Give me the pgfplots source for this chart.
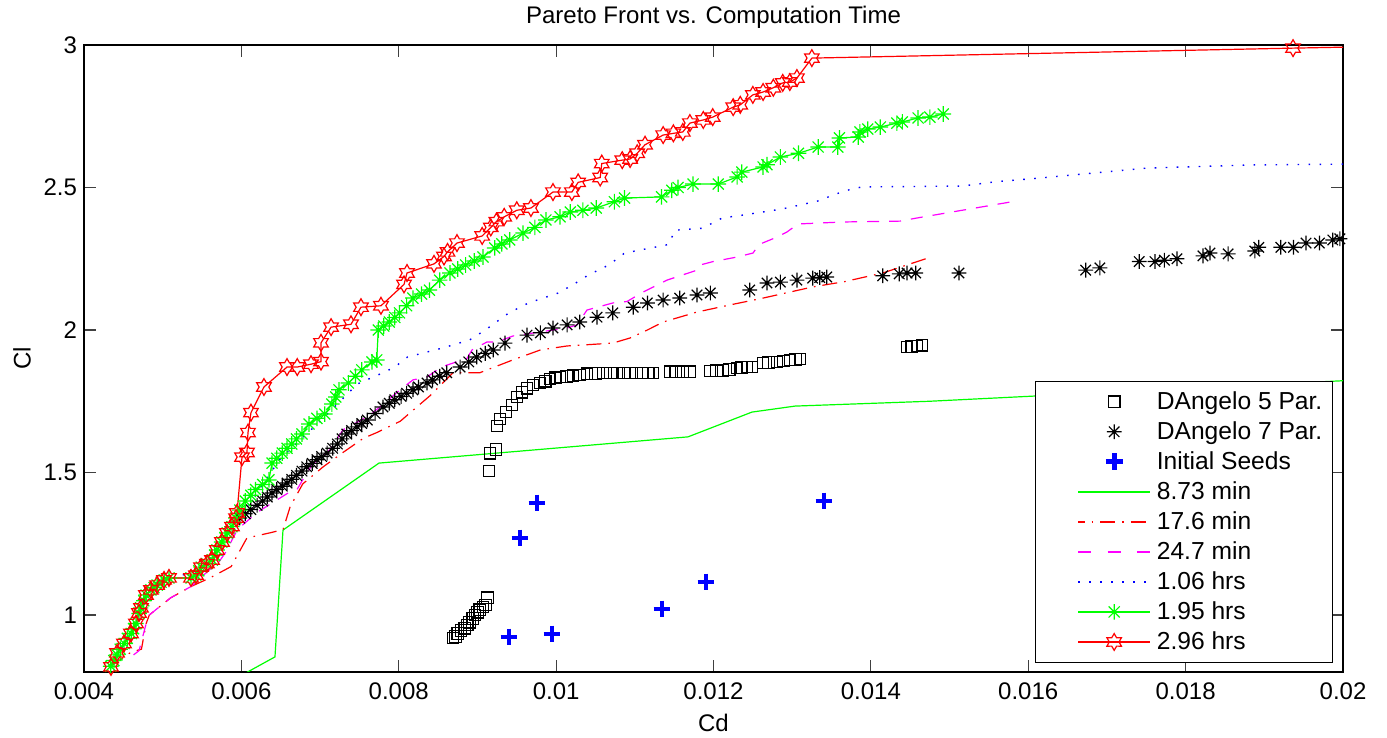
\documentclass[border=0pt]{standalone}
\usepackage{pgfplots}
\pgfplotsset{compat=1.18}
\usepackage{fontspec}
\setmainfont{Liberation Sans}
\definecolor{mgreen}{rgb}{0,1,0}
\definecolor{mred}{rgb}{1,0,0}
\definecolor{mmag}{rgb}{1,0,1}
\definecolor{mblue}{rgb}{0,0,1}
\pgfdeclareplotmark{hexagram}{%
 \pgfpathmoveto{\pgfqpointpolar{90}{\pgfplotmarksize}}%
 \pgfpathlineto{\pgfqpointpolar{120}{0.577\pgfplotmarksize}}%
 \pgfpathlineto{\pgfqpointpolar{150}{\pgfplotmarksize}}%
 \pgfpathlineto{\pgfqpointpolar{180}{0.577\pgfplotmarksize}}%
 \pgfpathlineto{\pgfqpointpolar{210}{\pgfplotmarksize}}%
 \pgfpathlineto{\pgfqpointpolar{240}{0.577\pgfplotmarksize}}%
 \pgfpathlineto{\pgfqpointpolar{270}{\pgfplotmarksize}}%
 \pgfpathlineto{\pgfqpointpolar{300}{0.577\pgfplotmarksize}}%
 \pgfpathlineto{\pgfqpointpolar{330}{\pgfplotmarksize}}%
 \pgfpathlineto{\pgfqpointpolar{0}{0.577\pgfplotmarksize}}%
 \pgfpathlineto{\pgfqpointpolar{30}{\pgfplotmarksize}}%
 \pgfpathlineto{\pgfqpointpolar{60}{0.577\pgfplotmarksize}}%
 \pgfpathclose\pgfusepathqstroke}
\pgfdeclareplotmark{mstar}{%
 \pgfpathmoveto{\pgfqpoint{0pt}{\pgfplotmarksize}}\pgfpathlineto{\pgfqpoint{0pt}{-\pgfplotmarksize}}%
 \pgfpathmoveto{\pgfqpoint{\pgfplotmarksize}{0pt}}\pgfpathlineto{\pgfqpoint{-\pgfplotmarksize}{0pt}}%
 \pgfpathmoveto{\pgfqpoint{0.707\pgfplotmarksize}{0.707\pgfplotmarksize}}\pgfpathlineto{\pgfqpoint{-0.707\pgfplotmarksize}{-0.707\pgfplotmarksize}}%
 \pgfpathmoveto{\pgfqpoint{-0.707\pgfplotmarksize}{0.707\pgfplotmarksize}}\pgfpathlineto{\pgfqpoint{0.707\pgfplotmarksize}{-0.707\pgfplotmarksize}}%
 \pgfusepathqstroke}
\begin{document}
\begin{tikzpicture}
\path[use as bounding box] (0,0) rectangle (693.5pt,369pt);
\begin{axis}[
 at={(42pt,33pt)}, anchor=south west,
 scale only axis, width=629.5pt, height=313.5pt,
 xmin=0.004, xmax=0.02, ymin=0.8, ymax=3,
 font=\fontsize{12}{14}\selectfont,
 xtick={0.004,0.006,0.008,0.01,0.012,0.014,0.016,0.018,0.02},
 xticklabels={0.004,0.006,0.008,0.01,0.012,0.014,0.016,0.018,0.02},
 ytick={1,1.5,2,2.5,3},
 yticklabels={1,1.5,2,2.5,3},
 xticklabel style={yshift=-2pt},
 scaled x ticks=false,
 tick align=inside, major tick length=6pt,
 tick style={line width=0.6pt, black!75},
 axis line style={line width=0.9pt},
 title={Pareto Front vs. Computation Time},
 title style={yshift=-1.5pt},
 xlabel={Cd}, ylabel={Cl},
 xlabel style={yshift=0pt},
 ylabel style={yshift=-0.5pt},
 legend cell align=left,
 legend style={at={(0.992,0.0144)}, anchor=south east, draw=black, line width=0.6pt,
   row sep=0.6pt, inner xsep=3pt, inner ysep=3pt, font=\fontsize{12.3}{14}\selectfont,
   /tikz/every odd column/.append style={column sep=1pt}},
 legend image code/.code={\draw[mark repeat=2,mark phase=2,#1] (0pt,0pt) plot coordinates {(17pt,0pt)(35pt,0pt)(53pt,0pt)};},
]
% DAngelo 5 Par.
\addplot[only marks, mark=square, mark size=2.9pt, color=black, draw=black, line width=0.6pt] coordinates {
(0.00869,0.919)(0.00872,0.925)(0.00875,0.935)(0.00879,0.945)(0.00884,0.954)(0.00887,0.965)(0.0089,0.975)(0.00894,0.988)(0.00897,1.0)(0.009,1.01)(0.00903,1.018)(0.00907,1.028)(0.0091,1.035)(0.00913,1.06)
(0.009147,1.505)(0.00916,1.568)(0.009236,1.58)(0.009249,1.663)(0.009287,1.688)(0.009363,1.712)(0.00944,1.737)(0.009503,1.765)(0.009566,1.782)(0.00963,1.796)(0.009706,1.807)(0.009795,1.814)(0.00986,1.82)(0.009922,1.828)(0.00999,1.832)(0.01005,1.835)(0.01013,1.837)(0.010214,1.839)(0.0103,1.842)(0.010392,1.846)(0.0105,1.848)(0.010596,1.849)(0.01069,1.849)(0.010774,1.849)(0.01086,1.849)(0.010939,1.849)(0.01102,1.849)(0.011104,1.849)(0.01117,1.849)(0.011231,1.849)
(0.011447,1.853)(0.01152,1.853)(0.011612,1.853)(0.011701,1.853)
(0.011956,1.856)(0.01204,1.857)(0.012121,1.858)(0.0122,1.862)(0.012299,1.867)(0.01236,1.868)(0.012426,1.87)(0.01249,1.87)
(0.01263,1.884)(0.0127,1.886)(0.012807,1.888)(0.01289,1.891)(0.012972,1.895)(0.01304,1.897)(0.013099,1.898)
(0.014459,1.94)(0.01452,1.942)(0.014586,1.944)(0.01465,1.947)};
% DAngelo 7 Par.
\addplot[only marks, mark=mstar, mark size=3.7pt, color=black, draw=black, line width=0.6pt] coordinates {
(0.00598,1.34)(0.00605,1.355)(0.00612,1.37)(0.0062,1.385)(0.00627,1.40)(0.00633,1.414)(0.00639,1.428)(0.00645,1.44)(0.00652,1.452)(0.00658,1.463)(0.00664,1.476)(0.0067,1.49)(0.00677,1.505)(0.00683,1.52)(0.0069,1.532)(0.00696,1.545)(0.00702,1.556)(0.00709,1.568)(0.00716,1.585)(0.00722,1.60)(0.00728,1.618)(0.00734,1.635)(0.0074,1.647)(0.00747,1.66)(0.00753,1.672)(0.0076,1.684)(0.0077,1.707)(0.0078,1.73)(0.00788,1.743)(0.00795,1.755)(0.00803,1.767)(0.0081,1.778)(0.00818,1.79)(0.00825,1.80)(0.00836,1.814)(0.00843,1.825)(0.00852,1.838)(0.00861,1.85)(0.00878,1.87)(0.00889,1.888)(0.00899,1.905)(0.0091,1.918)(0.0092,1.93)(0.00935,1.954)(0.00963,1.982)(0.0098,1.99)(0.00996,2.007)(0.01014,2.018)(0.0103,2.028)(0.01052,2.045)(0.01072,2.06)(0.01098,2.08)(0.01116,2.095)(0.01136,2.105)(0.01157,2.112)(0.01179,2.123)(0.01196,2.13)
(0.01246,2.14)(0.01268,2.165)(0.01285,2.168)(0.01306,2.175)(0.01326,2.182)(0.01335,2.184)(0.01344,2.186)
(0.01415,2.19)(0.01436,2.197)(0.01446,2.2)(0.01457,2.2)(0.01512,2.2)
(0.01673,2.21)(0.01691,2.218)(0.01741,2.24)(0.01761,2.24)(0.01773,2.245)(0.01789,2.25)(0.01822,2.26)(0.01831,2.27)(0.01854,2.267)(0.01888,2.277)(0.01893,2.29)(0.01921,2.29)(0.01937,2.29)(0.01953,2.305)(0.0197,2.305)(0.01987,2.316)(0.01996,2.32)};
% Initial Seeds
\addplot[only marks, mark=+, mark size=4.2pt, color=mblue, draw=mblue, line width=2.4pt] coordinates {
(0.009757,1.393)(0.009541,1.27)(0.009401,0.923)(0.009948,0.933)(0.011345,1.021)(0.011905,1.116)(0.013404,1.40)};
% 8.73 min
\addplot[color=mgreen, draw=mgreen, line width=0.6pt, mark=none,
  legend image code/.code={\draw[draw=mgreen, line width=0.7pt] (0pt,0pt) (17pt,0pt) -- (53pt,0pt);}] coordinates {
(0.00594,0.76)(0.006059,0.797)(0.006427,0.853)(0.006529,1.298)(0.007749,1.533)(0.011676,1.625)(0.012489,1.712)(0.013036,1.733)(0.014751,1.75)(0.02,1.822)};
% 17.6 min
\addplot[color=mred, draw=mred, line width=0.6pt, mark=none, dash pattern=on 7.5pt off 3.5pt on 0.8pt off 3.5pt,
  legend image code/.code={\draw[draw=mred, line width=0.7pt, dash pattern=on 7.5pt off 3.5pt on 0.8pt off 3.5pt, dash phase=4.3pt] (0pt,0pt) (17pt,0pt) -- (53pt,0pt);}] coordinates {
(0.00434,0.82)(0.0046,0.87)(0.00473,0.88)(0.00479,0.97)(0.00483,1.0)(0.0051,1.06)(0.00536,1.10)(0.0056,1.13)(0.00587,1.17)(0.00607,1.27)(0.00639,1.29)(0.00653,1.30)(0.00662,1.38)(0.00678,1.46)(0.00704,1.52)(0.00729,1.57)(0.00755,1.62)(0.00772,1.64)(0.00802,1.68)(0.00823,1.73)(0.0084,1.77)(0.00869,1.85)(0.00903,1.85)(0.00945,1.895)(0.0098,1.93)(0.01014,1.944)(0.01072,1.954)(0.01094,1.972)(0.01116,2.0)(0.01136,2.028)(0.01179,2.063)(0.01221,2.088)(0.01263,2.112)(0.01326,2.151)(0.01367,2.17)(0.01415,2.2)(0.01473,2.253)};
% 24.7 min
\addplot[color=mmag, draw=mmag, line width=0.6pt, mark=none, dash pattern=on 6pt off 5pt,
  legend image code/.code={\draw[draw=mmag, line width=0.7pt, dash pattern=on 6.5pt off 8.2pt] (0pt,0pt) (17pt,0pt) -- (53pt,0pt);}] coordinates {
(0.00463,0.86)(0.0047,0.875)(0.00479,0.97)(0.00483,1.0)(0.0051,1.06)(0.00536,1.10)(0.0054,1.11)(0.0056,1.16)(0.0057,1.18)(0.0058,1.22)(0.00595,1.30)(0.0062,1.36)(0.006593,1.428)(0.006707,1.44)(0.006834,1.5)(0.00691,1.53)(0.007126,1.58)(0.007292,1.65)(0.007596,1.695)(0.007762,1.73)(0.008016,1.79)(0.008181,1.825)(0.008359,1.835)(0.008524,1.867)(0.008613,1.877)(0.008867,1.9)(0.008931,1.93)(0.009122,1.958)(0.009249,1.958)(0.009452,1.979)(0.009795,1.993)(0.010138,2.007)(0.010265,2.018)(0.010392,2.07)(0.010723,2.095)(0.010901,2.1)(0.011104,2.133)(0.011409,2.175)(0.01179,2.21)(0.011828,2.228)(0.011994,2.24)(0.012299,2.256)(0.012502,2.27)(0.012578,2.3)(0.012807,2.326)(0.012934,2.344)(0.013074,2.372)(0.013646,2.379)(0.01437,2.382)(0.014586,2.393)(0.015857,2.453)};
% 1.06 hrs
\addplot[color=mblue, draw=mblue, line width=0.7pt, mark=none, dash pattern=on 0.8pt off 4.7pt,
  legend image code/.code={\draw[draw=mblue, line width=0.7pt, dash pattern=on 0.8pt off 4.7pt] (0pt,0pt) (17pt,0pt) -- (53pt,0pt);}] coordinates {
(0.00434,0.82)(0.0047,0.98)(0.005,1.12)(0.0055,1.16)(0.006,1.35)(0.0065,1.55)(0.007,1.68)(0.0074,1.79)(0.00747,1.81)(0.0078,1.85)(0.00795,1.87)(0.00811,1.905)(0.00832,1.92)(0.00856,1.937)(0.0089,1.965)(0.0091,2.0)(0.0094,2.06)(0.00965,2.095)(0.01003,2.13)(0.01025,2.165)(0.01041,2.193)(0.01067,2.228)(0.01087,2.27)(0.01143,2.30)(0.01151,2.35)(0.01186,2.357)(0.01211,2.393)(0.01237,2.403)(0.01288,2.425)(0.01338,2.456)(0.01348,2.47)(0.01363,2.484)(0.01376,2.495)(0.01389,2.502)(0.01516,2.505)(0.01558,2.52)(0.01614,2.533)(0.01684,2.551)(0.0175,2.568)(0.01882,2.579)(0.02,2.582)};
% 1.95 hrs
\addplot[color=mgreen, draw=mgreen, line width=0.6pt, mark=mstar, mark size=3.9pt] coordinates {
(0.00434,0.82)(0.00438,0.84)(0.00442,0.86)(0.00446,0.88)(0.00451,0.90)(0.00455,0.918)(0.0046,0.935)(0.00463,0.952)(0.00466,0.97)(0.0047,1.005)(0.00472,1.025)(0.00476,1.05)(0.00479,1.07)(0.00485,1.088)(0.00489,1.096)(0.00493,1.105)(0.00498,1.115)(0.00502,1.123)(0.00508,1.13)(0.00536,1.13)(0.00542,1.14)(0.00546,1.155)(0.00549,1.168)(0.00556,1.18)(0.00563,1.193)(0.00566,1.21)(0.00569,1.228)(0.00575,1.256)(0.00579,1.272)(0.00582,1.288)(0.00588,1.31)(0.00593,1.34)
(0.00598,1.368)(0.00605,1.40)(0.00612,1.42)(0.00618,1.44)(0.00627,1.458)(0.00635,1.474)(0.00639,1.533)(0.00645,1.55)(0.00652,1.568)(0.00658,1.585)(0.00664,1.60)(0.0067,1.618)(0.00677,1.635)(0.00686,1.67)(0.00696,1.69)(0.00706,1.705)(0.00715,1.74)(0.0072,1.765)(0.00724,1.79)(0.00736,1.814)(0.00745,1.838)(0.00753,1.86)(0.00766,1.888)(0.00772,1.895)(0.00774,2.0)(0.00781,2.014)(0.00788,2.028)(0.00795,2.044)(0.00801,2.06)(0.0081,2.085)(0.00818,2.112)(0.00829,2.126)(0.00839,2.14)(0.00852,2.175)(0.00865,2.2)(0.00875,2.214)(0.00885,2.228)(0.00896,2.242)(0.00907,2.256)(0.00922,2.288)(0.00931,2.302)(0.00941,2.316)(0.00958,2.34)(0.00973,2.36)(0.00987,2.386)(0.01005,2.397)(0.01018,2.414)(0.01034,2.42)(0.01051,2.428)(0.01074,2.45)(0.01087,2.463)(0.01134,2.467)(0.01147,2.49)(0.01155,2.50)(0.01174,2.512)(0.01206,2.512)(0.0123,2.537)(0.01236,2.554)(0.01263,2.572)(0.01268,2.58)(0.01285,2.607)(0.01308,2.62)(0.01333,2.642)(0.01358,2.642)(0.0136,2.674)(0.01384,2.677)(0.01386,2.695)(0.01396,2.705)(0.01412,2.712)(0.01433,2.726)(0.0144,2.73)(0.0146,2.744)(0.01475,2.747)(0.01492,2.758)};
% 2.96 hrs
\addplot[color=mred, draw=mred, line width=0.6pt, mark=hexagram, mark size=4.2pt] coordinates {
(0.004343,0.818)(0.00442,0.867)(0.004508,0.90)(0.004597,0.935)(0.004661,0.97)(0.004699,1.007)(0.004724,1.025)(0.004788,1.07)(0.004851,1.088)(0.004928,1.105)(0.005017,1.123)(0.00508,1.13)(0.00536,1.13)(0.005423,1.14)(0.005487,1.168)(0.005563,1.18)(0.005627,1.193)(0.00569,1.228)(0.005754,1.256)(0.005817,1.288)(0.005881,1.31)(0.005932,1.34)(0.005944,1.358)
(0.006008,1.554)(0.006071,1.57)(0.006084,1.64)(0.006122,1.71)(0.006287,1.80)(0.00658,1.87)(0.00671,1.87)(0.006885,1.88)(0.007012,1.889)(0.007012,1.955)(0.00714,2.01)(0.007393,2.02)(0.00752,2.08)(0.007774,2.085)(0.008067,2.16)(0.008105,2.20)(0.008448,2.232)(0.008575,2.258)(0.00862,2.274)(0.00874,2.305)(0.00906,2.33)(0.00917,2.36)(0.00924,2.38)(0.00934,2.397)(0.0095,2.42)(0.00968,2.428)(0.00996,2.484)(0.0102,2.484)(0.01028,2.518)(0.01056,2.535)(0.01058,2.584)(0.01084,2.596)(0.01094,2.60)(0.01103,2.62)(0.01113,2.65)(0.01136,2.684)(0.01149,2.69)(0.01161,2.695)(0.0117,2.726)(0.01187,2.737)(0.01199,2.747)(0.01225,2.782)(0.01234,2.79)(0.0125,2.825)(0.01263,2.835)(0.01276,2.85)(0.01288,2.867)(0.01297,2.87)(0.01306,2.884)(0.01325,2.954)(0.019365,2.989)(0.0205,2.995)};
\legend{DAngelo 5 Par.,DAngelo 7 Par.,Initial Seeds,8.73 min,17.6 min,24.7 min,1.06 hrs,1.95 hrs,2.96 hrs}
\end{axis}
\end{tikzpicture}
\end{document}
